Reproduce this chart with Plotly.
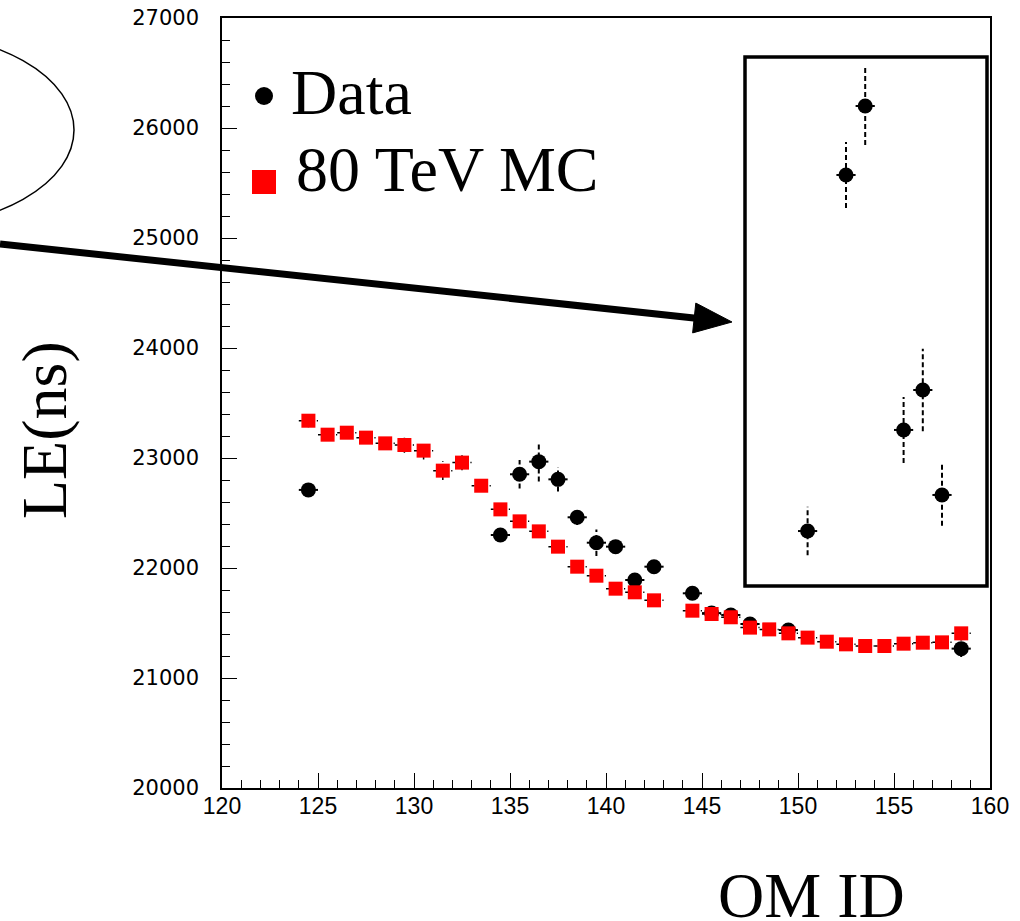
import plotly.graph_objects as go

# ---- values ----
om_data = [124.5, 134.5, 135.5, 136.5, 137.5, 138.5, 139.5, 140.5, 141.5, 142.5,
           144.5, 145.5, 146.5, 147.5, 149.5, 150.5, 152.5, 153.5, 155.5, 156.5,
           157.5, 158.5]
le_data = [22710, 22300, 22852, 22967, 22806, 22461, 22230, 22194, 21891, 22012,
           21770, 21590, 21573, 21491, 21436, 22336, 25573, 26200, 23255, 23618,
           22664, 21267]
le_data_err = [40, 40, 130, 180, 110, 70, 120, 50, 50, 50,
               50, 40, 40, 40, 40, 220, 300, 355, 300, 375,
               280, 75]

om_mc = [124.5, 125.5, 126.5, 127.5, 128.5, 129.5, 130.5, 131.5, 132.5, 133.5,
         134.5, 135.5, 136.5, 137.5, 138.5, 139.5, 140.5, 141.5, 142.5,
         144.5, 145.5, 146.5, 147.5, 148.5, 149.5, 150.5, 151.5, 152.5, 153.5,
         154.5, 155.5, 156.5, 157.5, 158.5]
le_mc = [23339, 23212, 23230, 23185, 23133, 23118, 23067, 22885, 22958, 22748,
         22533, 22424, 22333, 22194, 22012, 21930, 21812, 21779, 21706,
         21612, 21582, 21552, 21458, 21442, 21406, 21367, 21330, 21306, 21291,
         21291, 21312, 21321, 21324, 21406]
le_mc_err = [60, 40, 50, 40, 40, 70, 80, 85, 70, 50,
             50, 40, 40, 40, 40, 40, 40, 40, 40,
             40, 40, 40, 40, 40, 40, 40, 40, 40, 40,
             40, 40, 40, 40, 40]
bin_half = 0.5

legend_names = ["Data", "80 TeV MC"]
x_title = "OM ID"
y_title = "LE(ns)"

# ---- figure geometry (pixels) ----
W, H = 1020, 921
L, R, T, B = 222, 30, 18, 133
PW, PH = W - L - R, H - T - B


def px(x):
    return (x - L) / PW


def py(y):
    return (H - B - y) / PH


def hbars(xs, ys, half):
    bx, by = [], []
    for x, y in zip(xs, ys):
        bx += [x - half, x + half, None]
        by += [y, y, None]
    return bx, by


def vbars(xs, ys, errs):
    bx, by = [], []
    for x, y, e in zip(xs, ys, errs):
        bx += [x, x, None]
        by += [y - e, y + e, None]
    return bx, by


fig = go.Figure()

# data: error bars then markers
dxb, dyb = hbars(om_data, le_data, bin_half)
fig.add_trace(go.Scatter(x=dxb, y=dyb, mode="lines", showlegend=False,
                         line=dict(color="black", width=2), hoverinfo="skip"))
dxv, dyv = vbars(om_data, le_data, le_data_err)
fig.add_trace(go.Scatter(x=dxv, y=dyv, mode="lines", showlegend=False,
                         line=dict(color="black", width=2, dash="5px,3px"),
                         hoverinfo="skip"))
fig.add_trace(go.Scatter(x=om_data, y=le_data, mode="markers", name=legend_names[0],
                         showlegend=False,
                         marker=dict(symbol="circle", size=15, color="black",
                                     line=dict(width=0))))

# MC: dotted error bars then squares
mxb, myb = hbars(om_mc, le_mc, bin_half)
fig.add_trace(go.Scatter(x=mxb, y=myb, mode="lines", showlegend=False,
                         line=dict(color="black", width=1.5, dash="dot"),
                         hoverinfo="skip"))
mxv, myv = vbars(om_mc, le_mc, le_mc_err)
fig.add_trace(go.Scatter(x=mxv, y=myv, mode="lines", showlegend=False,
                         line=dict(color="black", width=1.5, dash="dot"),
                         hoverinfo="skip"))
fig.add_trace(go.Scatter(x=om_mc, y=le_mc, mode="markers", name=legend_names[1],
                         showlegend=False,
                         marker=dict(symbol="square", size=14, color="#ff0000",
                                     line=dict(width=0))))

shapes = []
# inset frame around the high points
shapes.append(dict(type="rect", xref="paper", yref="paper",
                   x0=px(745), x1=px(987), y0=py(586), y1=py(57),
                   line=dict(color="black", width=3.5)))
# ellipse at the upper left edge
shapes.append(dict(type="circle", xref="paper", yref="paper",
                   x0=px(-274), x1=px(74), y0=py(228), y1=py(32),
                   line=dict(color="black", width=1.5)))
# arrow shaft and head
tip = (732, 322)
start = (0, 244)
dx, dy = tip[0] - start[0], tip[1] - start[1]
ln = (dx ** 2 + dy ** 2) ** 0.5
ux, uy = dx / ln, dy / ln
head_len, head_half = 38, 15
bx0, by0 = tip[0] - head_len * ux, tip[1] - head_len * uy
shapes.append(dict(type="line", xref="paper", yref="paper",
                   x0=px(start[0]), y0=py(start[1]), x1=px(bx0 + 2 * ux), y1=py(by0 + 2 * uy),
                   line=dict(color="black", width=7)))
p1 = (bx0 - head_half * uy, by0 + head_half * ux)
p2 = (bx0 + head_half * uy, by0 - head_half * ux)
path = "M {:.5f},{:.5f} L {:.5f},{:.5f} L {:.5f},{:.5f} Z".format(
    px(tip[0]), py(tip[1]), px(p1[0]), py(p1[1]), px(p2[0]), py(p2[1]))
shapes.append(dict(type="path", xref="paper", yref="paper", path=path,
                   fillcolor="black", line=dict(color="black", width=1)))
# legend symbols
shapes.append(dict(type="circle", xref="paper", yref="paper",
                   x0=px(255), x1=px(273), y0=py(105), y1=py(87),
                   fillcolor="black", line=dict(color="black", width=0)))
shapes.append(dict(type="rect", xref="paper", yref="paper",
                   x0=px(252), x1=px(276), y0=py(194), y1=py(170),
                   fillcolor="#ff0000", line=dict(color="#ff0000", width=0)))

serif = "Liberation Serif, Times New Roman, serif"
annotations = [
    dict(text=legend_names[0], xref="paper", yref="paper", x=px(289), y=py(92),
         xanchor="left", yanchor="middle", showarrow=False,
         font=dict(family=serif, size=64, color="black")),
    dict(text=legend_names[1], xref="paper", yref="paper", x=px(294), y=py(169),
         xanchor="left", yanchor="middle", showarrow=False,
         font=dict(family=serif, size=64, color="black")),
    dict(text=y_title, xref="paper", yref="paper", x=px(45), y=py(430),
         xanchor="center", yanchor="middle", textangle=-90, showarrow=False,
         font=dict(family=serif, size=64, color="black")),
    dict(text=x_title, xref="paper", yref="paper", x=px(811), y=py(895),
         xanchor="center", yanchor="middle", showarrow=False,
         font=dict(family=serif, size=64, color="black")),
]

fig.update_layout(
    width=W, height=H, autosize=False,
    margin=dict(l=L, r=R, t=T, b=B, pad=0),
    paper_bgcolor="white", plot_bgcolor="white",
    showlegend=False,
    shapes=shapes, annotations=annotations,
)
fig.update_xaxes(range=[120, 160], tick0=120, dtick=5, ticks="inside", ticklen=15,
                 tickwidth=1, tickcolor="black", automargin=False,
                 minor=dict(dtick=1, ticks="inside", ticklen=8, tickcolor="black"),
                 showgrid=False, zeroline=False, showline=True, mirror=True,
                 linecolor="black", linewidth=1.5, ticklabelstandoff=-3,
                 tickfont=dict(family="Liberation Sans, Arial", size=23, color="black"))
fig.update_yaxes(range=[20000, 27000], tick0=20000, dtick=1000, ticks="inside", ticklen=15,
                 tickwidth=1, tickcolor="black", tickformat="d", automargin=False,
                 minor=dict(dtick=200, ticks="inside", ticklen=8, tickcolor="black"),
                 showgrid=False, zeroline=False, showline=True, mirror=True,
                 linecolor="black", linewidth=1.5, ticklabelstandoff=17,
                 tickfont=dict(family="DejaVu Sans", size=21, color="black"))

fig.write_html("out.html")
